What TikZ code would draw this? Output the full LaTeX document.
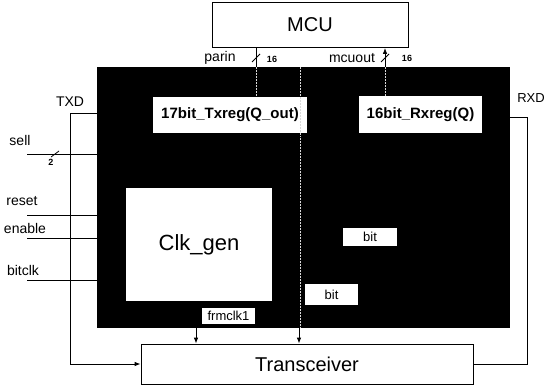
\documentclass[tikz,border=0pt]{standalone}
\usepackage{fontspec}
\setmainfont{Liberation Sans}
\usetikzlibrary{arrows.meta}
\begin{document}
\begin{tikzpicture}[x=1pt,y=-1pt,
  box/.style={draw, line width=0.8pt, fill=white, inner sep=0pt},
  wbox/.style={fill=white, draw=none, inner sep=0pt},
  lbl/.style={font=\fontsize{14}{14}\selectfont, inner sep=0pt},
  num/.style={font=\bfseries\fontsize{9}{9}\selectfont, inner sep=0pt},
  wire/.style={line width=0.8pt},
  arr/.style={wire, -{Latex[length=6pt,width=4.5pt]}},
  faint/.style={gray!30, line width=0.5pt, densely dotted}]
\useasboundingbox (0,0) rectangle (546,385);
% blocks
\node[box, minimum width=196pt, minimum height=45pt, font=\fontsize{20}{20}\selectfont] (mcu) at (310,25) {MCU};
\node[fill=black, draw=none, minimum width=413pt, minimum height=261pt, inner sep=0pt] (core) at (303.5,197.5) {};
\node[wbox, minimum width=154pt, minimum height=36pt, font=\bfseries\fontsize{15}{15}\selectfont] (tx) at (230,115) {17bit\_Txreg(Q\_out)};
\node[wbox, minimum width=123pt, minimum height=37pt, font=\bfseries\fontsize{15}{15}\selectfont] (rx) at (420.5,114.5) {16bit\_Rxreg(Q)};
\node[wbox, minimum width=146pt, minimum height=113pt, font=\fontsize{22}{22}\selectfont] (clk) at (199,244.5) {Clk\_gen};
\node[wbox, minimum width=54pt, minimum height=18pt, font=\fontsize{13}{13}\selectfont] (bitA) at (370,237) {bit};
\node[wbox, minimum width=53pt, minimum height=21pt, font=\fontsize{13}{13}\selectfont] (bitB) at (331.5,294.5) {bit};
\node[wbox, minimum width=53pt, minimum height=16pt, font=\fontsize{13}{13}\selectfont] (frm) at (228.5,316) {frmclk1};
\node[box, minimum width=332pt, minimum height=40pt, font=\fontsize{20}{20}\selectfont] (tr) at (307,364) {Transceiver};
% faint traces inside the core
\draw[faint] (256,67) -- (256,97);
\draw[faint] (385,67) -- (385,96);
\draw[faint] (300,67) -- (300,328);
% helper coordinates
\coordinate (px) at (256,0);
\coordinate (mx) at (385,0);
\coordinate (fx) at (196,0);
\coordinate (bx) at (299,0);
\coordinate (ty) at (0,113);
\coordinate (tx0) at (70,0);
\coordinate (ry) at (0,117);
\coordinate (rx0) at (527,0);
\coordinate (sellin) at (27,154);
\coordinate (resetin) at (27,215);
\coordinate (enin) at (27,238);
\coordinate (bcin) at (27,280);
% MCU buses
\draw[wire] (px |- mcu.south) -- (px |- core.north);
\draw[wire] (252,62) -- (260,54);
\draw[arr] (mx |- core.north) -- (mx |- mcu.south);
\draw[wire] (381,62) -- (389,54);
\node[lbl] (lparin) at (220,58) {parin};
\node[num] (n16a) at (272,59) {16};
\node[lbl] (lmcuout) at (352,58) {mcuout};
\node[num] (n16b) at (407,58) {16};
% TXD / RXD
\draw[arr] (ty -| core.west) -- (ty -| tx0) |- (tr.west);
\node[lbl] (ltxd) at (70,102) {TXD};
\draw[wire] (tr.east) -| (rx0 |- ry) -- (ry -| core.east);
\node[lbl, anchor=east, font=\fontsize{13}{13}\selectfont] (lrxd) at (545,98) {RXD};
% inputs
\draw[wire] (sellin) -- (sellin -| core.west);
\draw[wire] (51,157) -- (59,151);
\node[num] (n2) at (51,162) {2};
\node[lbl] (lsell) at (20,140) {sell};
\draw[wire] (resetin) -- (resetin -| core.west);
\node[lbl] (lreset) at (22,201) {reset};
\draw[wire] (enin) -- (enin -| core.west);
\node[lbl] (lenable) at (25,228) {enable};
\draw[wire] (bcin) -- (bcin -| core.west);
\node[lbl] (lbitclk) at (23,270) {bitclk};
% to transceiver
\draw[arr] (fx |- core.south) -- (fx |- tr.north);
\draw[arr] (bx |- core.south) -- (bx |- tr.north);
\end{tikzpicture}
\end{document}
